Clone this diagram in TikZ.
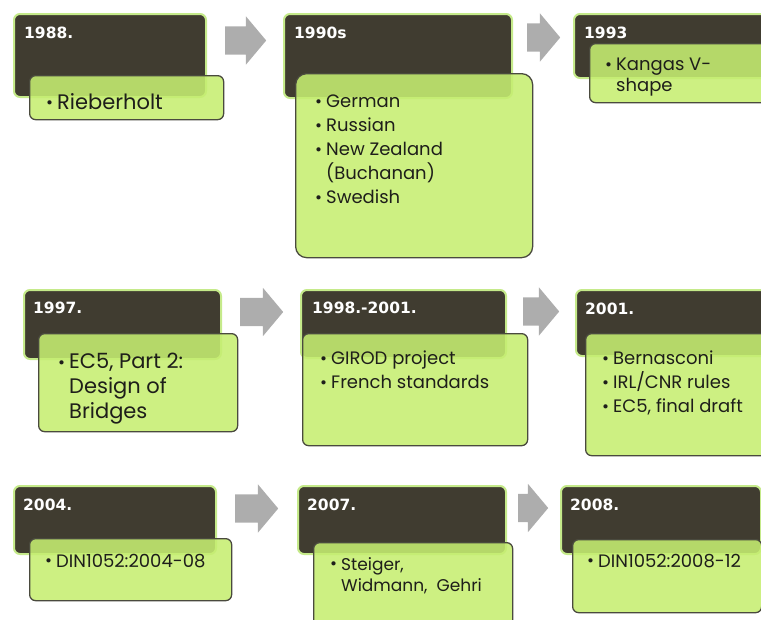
\documentclass[tikz,border=0pt]{standalone}
\usepackage{fontspec}
\setmainfont{Poppins}
\newfontfamily\yearfont{DejaVu Sans}
\usetikzlibrary{positioning,shapes.arrows}

\definecolor{yeardark}{HTML}{403C30}
\definecolor{yearglow}{HTML}{C5EA8A}
\definecolor{itemgreen}{HTML}{C6EE71}
\definecolor{itemline}{HTML}{4A4A3E}
\definecolor{arrowgray}{HTML}{ADADAD}
\definecolor{itemink}{HTML}{1E1E1A}

\newcommand\bul{\llap{\raisebox{0.5pt}{\fontsize{17}{17}\selectfont\textbullet}\hspace{4pt}}}

\tikzset{
  yearbox/.style={draw=yearglow, line width=2pt, fill=yeardark, rounded corners=6pt,
    anchor=north west, inner sep=0pt},
  itembox/.style={draw=itemline, line width=1.3pt, fill=itemgreen, fill opacity=0.88,
    rounded corners=6pt, anchor=north west, inner sep=0pt},
  yeartext/.style={text=white, font=\yearfont\bfseries\fontsize{15.5}{18}\selectfont,
    anchor=north west, inner sep=0pt},
  itemtext/.style={text=itemink, font=\fontsize{18}{24}\selectfont,
    anchor=north west, inner sep=0pt, align=left},
  bigtext/.style={font=\fontsize{21}{25}\selectfont},
  timearrow/.style={single arrow, fill=arrowgray, draw=none, inner xsep=0pt, inner ysep=14pt,
    minimum width=48pt, single arrow head extend=10pt, single arrow tip angle=100, anchor=tail}
}

\begin{document}
\begin{tikzpicture}[x=1pt, y=-1pt]
  \useasboundingbox (0,0) rectangle (761,619);

  % first row
  \node[yearbox, minimum width=192pt, minimum height=83pt] (y1988) at (13,13) {};
  \node[yeartext] (t1988) at ([shift={(11,14)}]y1988.north west) {1988.};
  \node[itembox, minimum width=194pt, minimum height=44pt] (b1988) at (29,75) {};
  \node[itemtext, bigtext] (l1988) at ([shift={(28,18)}]b1988.north west) {\bul Rieberholt};

  \node[timearrow, minimum height=41pt] (a1) at (225,40.5) {};

  \node[yearbox, minimum width=228pt, minimum height=84pt] (y1990) at (283,13) {};
  \node[yeartext] (t1990) at ([shift={(11,14)}]y1990.north west) {1990s};
  \node[itembox, rounded corners=11pt, minimum width=237pt, minimum height=184pt] (b1990) at (295,73) {};
  \node[itemtext] (l1990) at ([shift={(31,22)}]b1990.north west)
    {\bul German\\ \bul Russian\\ \bul New Zealand\\ (Buchanan)\\ \bul Swedish};

  \node[timearrow, minimum height=33pt] (a2) at (527,37.5) {};

  \node[yearbox, minimum width=200pt, minimum height=64pt] (y1993) at (573,13) {};
  \node[yeartext] (t1993) at ([shift={(11,14)}]y1993.north west) {1993};
  \node[itembox, minimum width=190pt, minimum height=59pt] (b1993) at (589,43) {};
  \node[itemtext, font=\fontsize{18}{21}\selectfont] (l1993) at ([shift={(27,15)}]b1993.north west)
    {\bul Kangas V-\\ shape};

  % second row
  \node[yearbox, minimum width=197pt, minimum height=69pt] (y1997) at (23,289) {};
  \node[yeartext] (t1997) at ([shift={(10,13)}]y1997.north west) {1997.};
  \node[itembox, minimum width=199pt, minimum height=98pt] (b1997) at (38,333) {};
  \node[itemtext, bigtext] (l1997) at ([shift={(31,20)}]b1997.north west)
    {\bul EC5, Part 2:\\ Design of\\ Bridges};

  \node[timearrow, minimum height=43pt] (a3) at (240,312) {};

  \node[yearbox, minimum width=205pt, minimum height=68pt] (y1998) at (300,289) {};
  \node[yeartext] (t1998) at ([shift={(12,13)}]y1998.north west) {1998.-2001.};
  \node[itembox, minimum width=225pt, minimum height=112pt] (b1998) at (302,333) {};
  \node[itemtext] (l1998) at ([shift={(29,18)}]b1998.north west)
    {\bul GIROD project\\ \bul French standards};

  \node[timearrow, minimum height=36pt] (a4) at (523,311.5) {};

  \node[yearbox, minimum width=195pt, minimum height=66pt] (y2001) at (575,289) {};
  \node[yeartext] (t2001) at ([shift={(10,14)}]y2001.north west) {2001.};
  \node[itembox, minimum width=190pt, minimum height=122pt] (b2001) at (585,333) {};
  \node[itemtext] (l2001) at ([shift={(28,18)}]b2001.north west)
    {\bul Bernasconi\\ \bul IRL/CNR rules\\ \bul EC5, final draft};

  % third row
  \node[yearbox, minimum width=202pt, minimum height=68pt] (y2004) at (13,485) {};
  \node[yeartext] (t2004) at ([shift={(10,14)}]y2004.north west) {2004.};
  \node[itembox, minimum width=202pt, minimum height=62pt] (b2004) at (29,538) {};
  \node[itemtext] (l2004) at ([shift={(27,16)}]b2004.north west) {\bul DIN1052:2004-08};

  \node[timearrow, minimum height=43pt] (a5) at (235,508.5) {};

  \node[yearbox, minimum width=208pt, minimum height=68pt] (y2007) at (297,485) {};
  \node[yeartext] (t2007) at ([shift={(10,14)}]y2007.north west) {2007.};
  \node[itembox, minimum width=199pt, minimum height=90pt] (b2007) at (313,542) {};
  \node[itemtext, font=\fontsize{17}{21}\selectfont] (l2007) at ([shift={(28,15)}]b2007.north west)
    {\bul Steiger,\\ Widmann,~ Gehri};

  \node[timearrow, minimum height=30pt] (a6) at (518,508) {};

  \node[yearbox, minimum width=200pt, minimum height=68pt] (y2008) at (560,485) {};
  \node[yeartext] (t2008) at ([shift={(10,14)}]y2008.north west) {2008.};
  \node[itembox, minimum width=189pt, minimum height=73pt] (b2008) at (572,539) {};
  \node[itemtext] (l2008) at ([shift={(26,15)}]b2008.north west) {\bul DIN1052:2008-12};
\end{tikzpicture}
\end{document}
